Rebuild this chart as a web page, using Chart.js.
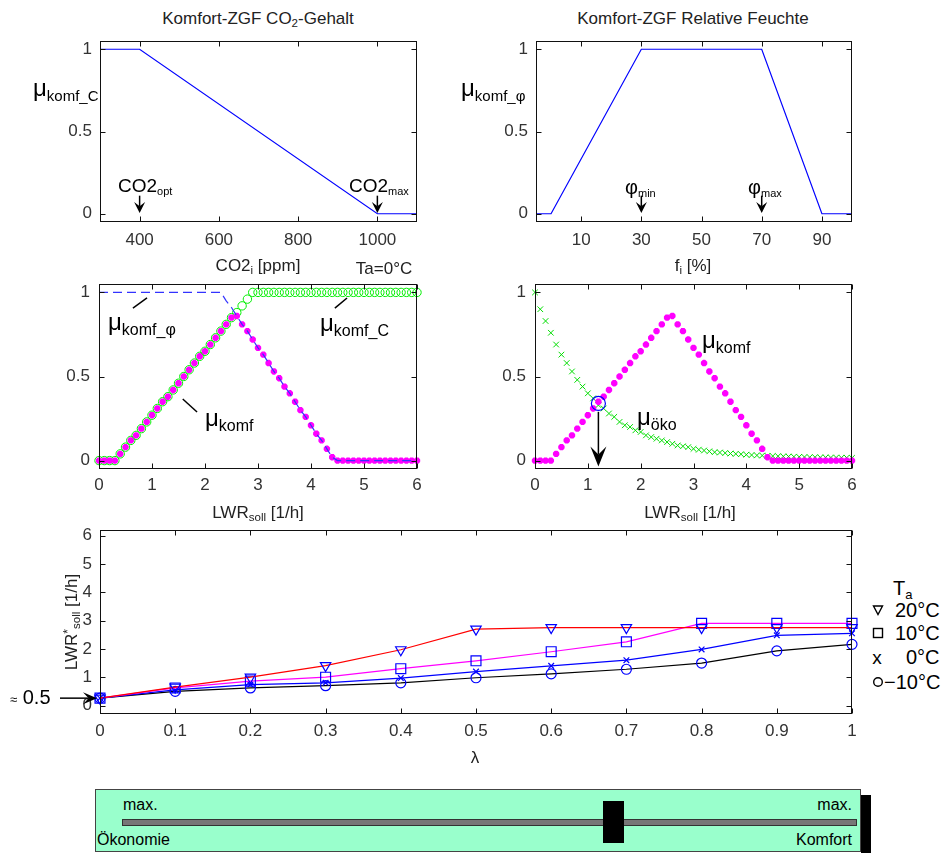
<!DOCTYPE html>
<html>
<head>
<meta charset="utf-8">
<script src="https://cdn.jsdelivr.net/npm/chart.js@4.4.0/dist/chart.umd.min.js"></script>
<style>
body { margin: 0; background: #fff; width: 950px; height: 854px; position: relative; overflow: hidden;
       font-family: "Liberation Sans", Arial, sans-serif; }
canvas { position: absolute; }
.t { position: absolute; white-space: nowrap; line-height: 1; color: #222; }
.c { transform: translate(-50%, -50%); }
.l { transform: translateY(-50%); }
.r { transform: translate(-100%, -50%); }
.k { color: #000; }
sub { font-size: 0.68em; vertical-align: -0.3em; line-height: 0; }
sup { font-size: 0.7em; vertical-align: 0.4em; line-height: 0; }
.mu { font-size: 24px; }
.ms { font-size: 16px; }
svg.sym { position: absolute; }
</style>
</head>
<body>
<canvas id="c1"></canvas>
<canvas id="c2"></canvas>
<canvas id="c3"></canvas>
<canvas id="c4"></canvas>
<canvas id="c5"></canvas>

<!-- top row texts -->
<div class="t c" style="left:258px;top:18px;font-size:17px">Komfort-ZGF CO<sub>2</sub>-Gehalt</div>
<div class="t c" style="left:693px;top:18px;font-size:17px">Komfort-ZGF Relative Feuchte</div>
<div class="t l k" style="left:33px;top:88px"><span class="mu">μ</span><sub class="ms" style="font-size:15px">komf_C</sub></div>
<div class="t l k" style="left:461px;top:88px"><span class="mu">μ</span><sub class="ms" style="font-size:15px">komf_φ</sub></div>
<div class="t l k" style="left:118px;top:185px;font-size:19px">CO2<sub style="font-size:11px">opt</sub></div>
<div class="t l k" style="left:349px;top:185px;font-size:19px">CO2<sub style="font-size:11px">max</sub></div>
<div class="t l k" style="left:625px;top:187px;font-size:20px">φ<sub style="font-size:11px">min</sub></div>
<div class="t l k" style="left:748px;top:187px;font-size:20px">φ<sub style="font-size:11px">max</sub></div>
<div class="t c" style="left:258px;top:265px;font-size:17px">CO2<sub>i</sub> [ppm]</div>
<div class="t c" style="left:384px;top:268px;font-size:17px">Ta=0°C</div>
<div class="t c" style="left:693px;top:265px;font-size:17px">f<sub>i</sub> [%]</div>

<!-- middle row texts -->
<div class="t l k" style="left:108px;top:322px"><span class="mu">μ</span><sub class="ms">komf_φ</sub></div>
<div class="t l k" style="left:320px;top:323px"><span class="mu">μ</span><sub class="ms">komf_C</sub></div>
<div class="t l k" style="left:205px;top:418px"><span class="mu">μ</span><sub class="ms">komf</sub></div>
<div class="t l k" style="left:702px;top:340px"><span class="mu">μ</span><sub class="ms">komf</sub></div>
<div class="t l k" style="left:637px;top:417px"><span class="mu">μ</span><sub class="ms">öko</sub></div>
<div class="t c" style="left:258px;top:512px;font-size:17px">LWR<sub>soll</sub> [1/h]</div>
<div class="t c" style="left:690px;top:512px;font-size:17px">LWR<sub>soll</sub> [1/h]</div>

<!-- bottom chart texts -->
<div class="t" style="left:71px;top:622px;font-size:17px;transform:translate(-50%,-50%) rotate(-90deg)">LWR<sup>*</sup><sub>soll</sub> [1/h]</div>
<div class="t c" style="left:475px;top:757px;font-size:17px">λ</div>
<div class="t l k" style="left:10px;top:697px;font-size:20px"><span style="font-size:13px">≈</span> 0.5</div>
<div class="t l k" style="left:893px;top:588px;font-size:20px">T<sub style="font-size:13px">a</sub></div>
<svg class="sym" style="left:872px;top:604px" width="12" height="12"><path d="M1.5,2 L10.5,2 L6,10.5 Z" fill="none" stroke="#000" stroke-width="1.4"/></svg>
<div class="t l k" style="left:895px;top:610px;font-size:20px">20°C</div>
<svg class="sym" style="left:872px;top:627px" width="12" height="12"><rect x="1.5" y="1.5" width="9" height="9" fill="none" stroke="#000" stroke-width="1.4"/></svg>
<div class="t l k" style="left:895px;top:633px;font-size:20px">10°C</div>
<div class="t c k" style="left:877px;top:657px;font-size:19px">x</div>
<div class="t l k" style="left:906px;top:657px;font-size:20px">0°C</div>
<svg class="sym" style="left:872px;top:676px" width="12" height="12"><circle cx="6" cy="6" r="4.3" fill="none" stroke="#000" stroke-width="1.4"/></svg>
<div class="t l k" style="left:884px;top:682px;font-size:20px">−10°C</div>

<!-- slider -->
<div style="position:absolute;left:861px;top:795px;width:10px;height:58px;background:#000"></div>
<div style="position:absolute;left:95px;top:789px;width:764px;height:61px;background:#99ffcc;border:1px solid #444"></div>
<div style="position:absolute;left:122px;top:819px;width:733px;height:5px;background:#777;border:1px solid #333"></div>
<div style="position:absolute;left:603px;top:801px;width:21px;height:42px;background:#000"></div>
<div class="t l k" style="left:123px;top:805px;font-size:16px">max.</div>
<div class="t r k" style="left:852px;top:805px;font-size:16px">max.</div>
<div class="t l k" style="left:97px;top:840px;font-size:16px">Ökonomie</div>
<div class="t r k" style="left:852px;top:840px;font-size:16px">Komfort</div>

<script>
// --- top left: comfort membership for CO2 ---
var co2X = [300, 400, 1000, 1100];
var co2Mu = [1, 1, 0, 0];
var co2Ticks = [400, 600, 800, 1000];

// --- top right: comfort membership for humidity ---
var humX = [-5, 0, 30, 70, 90, 100];
var humMu = [0, 0, 1, 1, 0, 0];
var humTicks = [10, 30, 50, 70, 90];

var muTicks = [0, 0.5, 1];

// --- middle row: air change rate LWR_soll [1/h] ---
var lwr = [0, 0.1, 0.2, 0.3, 0.4, 0.5, 0.6, 0.7, 0.8, 0.9,
           1, 1.1, 1.2, 1.3, 1.4, 1.5, 1.6, 1.7, 1.8, 1.9,
           2, 2.1, 2.2, 2.3, 2.4, 2.5, 2.6, 2.7, 2.8, 2.9,
           3, 3.1, 3.2, 3.3, 3.4, 3.5, 3.6, 3.7, 3.8, 3.9,
           4, 4.1, 4.2, 4.3, 4.4, 4.5, 4.6, 4.7, 4.8, 4.9,
           5, 5.1, 5.2, 5.3, 5.4, 5.5, 5.6, 5.7, 5.8, 5.9, 6];
var lwrTicks = [0, 1, 2, 3, 4, 5, 6];

var muKomfC = [0, 0, 0, 0, 0.04, 0.08, 0.12, 0.15, 0.19, 0.23,
               0.27, 0.31, 0.35, 0.38, 0.42, 0.46, 0.50, 0.54, 0.58, 0.62,
               0.65, 0.69, 0.73, 0.77, 0.81, 0.85, 0.88, 0.92, 0.96, 1,
               1, 1, 1, 1, 1, 1, 1, 1, 1, 1,
               1, 1, 1, 1, 1, 1, 1, 1, 1, 1,
               1, 1, 1, 1, 1, 1, 1, 1, 1, 1, 1];
var muKomfPhi = [1, 1, 1, 1, 1, 1, 1, 1, 1, 1,
                 1, 1, 1, 1, 1, 1, 1, 1, 1, 1,
                 1, 1, 1, 1, 0.95, 0.91, 0.86, 0.81, 0.77, 0.72,
                 0.67, 0.63, 0.58, 0.53, 0.49, 0.44, 0.40, 0.35, 0.30, 0.26,
                 0.21, 0.16, 0.12, 0.07, 0.02, 0, 0, 0, 0, 0,
                 0, 0, 0, 0, 0, 0, 0, 0, 0, 0, 0];
var muKomf = [0, 0, 0, 0, 0.04, 0.08, 0.12, 0.15, 0.19, 0.23,
              0.27, 0.31, 0.35, 0.38, 0.42, 0.46, 0.50, 0.54, 0.58, 0.62,
              0.65, 0.69, 0.73, 0.77, 0.81, 0.85, 0.86, 0.81, 0.77, 0.72,
              0.67, 0.63, 0.58, 0.53, 0.49, 0.44, 0.40, 0.35, 0.30, 0.26,
              0.21, 0.16, 0.12, 0.07, 0.02, 0, 0, 0, 0, 0,
              0, 0, 0, 0, 0, 0, 0, 0, 0, 0, 0];
var muOeko = [1.00, 0.90, 0.83, 0.76, 0.69, 0.63, 0.58, 0.53, 0.48, 0.44,
              0.40, 0.37, 0.33, 0.31, 0.28, 0.26, 0.23, 0.21, 0.20, 0.18,
              0.17, 0.15, 0.14, 0.13, 0.12, 0.11, 0.10, 0.09, 0.085, 0.08,
              0.07, 0.065, 0.06, 0.055, 0.05, 0.048, 0.045, 0.042, 0.04, 0.038,
              0.035, 0.033, 0.031, 0.03, 0.028, 0.027, 0.026, 0.025, 0.024, 0.023,
              0.022, 0.021, 0.02, 0.02, 0.019, 0.019, 0.018, 0.018, 0.017, 0.017, 0.016];
var cutX = [1.2];
var cutY = [0.34];

// --- bottom: LWR*_soll over lambda for outdoor temperatures ---
var lambda = [0, 0.1, 0.2, 0.3, 0.4, 0.5, 0.6, 0.7, 0.8, 0.9, 1];
var lwr20 = [0.26, 0.65, 1.0, 1.41, 1.97, 2.7, 2.75, 2.75, 2.75, 2.75, 2.75];
var lwr10 = [0.26, 0.62, 0.86, 1.0, 1.3, 1.58, 1.9, 2.25, 2.9, 2.9, 2.9];
var lwr0 = [0.26, 0.55, 0.74, 0.8, 0.97, 1.2, 1.4, 1.6, 1.98, 2.48, 2.55];
var lwrM10 = [0.26, 0.5, 0.62, 0.7, 0.8, 0.98, 1.12, 1.28, 1.5, 1.93, 2.16];
var lambdaTicks = [0, 0.1, 0.2, 0.3, 0.4, 0.5, 0.6, 0.7, 0.8, 0.9, 1];
var lwrStarTicks = [0, 1, 2, 3, 4, 5, 6];

Chart.defaults.font.family = "'Liberation Sans', Arial, sans-serif";
Chart.defaults.font.size = 17;
Chart.defaults.color = '#333';
var tickFont = { family: "'Liberation Sans', Arial, sans-serif", size: 17 };
var tickColor = '#333';

function pts(xs, ys) {
  return xs.map(function (x, i) { return { x: x, y: ys[i] }; });
}

function drawArrow(ctx, x1, y1, x2, y2, w, h) {
  var dx = x2 - x1, dy = y2 - y1, len = Math.sqrt(dx * dx + dy * dy);
  var ux = dx / len, uy = dy / len, nx = -uy, ny = ux;
  ctx.beginPath();
  ctx.moveTo(x1, y1);
  ctx.lineTo(x2 - ux * h * 0.6, y2 - uy * h * 0.6);
  ctx.stroke();
  ctx.beginPath();
  ctx.moveTo(x2, y2);
  ctx.lineTo(x2 - ux * h + nx * w / 2, y2 - uy * h + ny * w / 2);
  ctx.lineTo(x2 - ux * h * 0.6, y2 - uy * h * 0.6);
  ctx.lineTo(x2 - ux * h - nx * w / 2, y2 - uy * h - ny * w / 2);
  ctx.closePath();
  ctx.fill();
}

var framePlugin = {
  id: 'frame',
  afterDraw: function (chart, args, opts) {
    var ctx = chart.ctx, a = chart.chartArea;
    var xs = chart.scales.x, ys = chart.scales.y;
    var L = Math.round(a.left) + 0.5, R = Math.round(a.right) - 0.5;
    var T = Math.round(a.top) + 0.5, B = Math.round(a.bottom) - 0.5;
    ctx.save();
    ctx.strokeStyle = '#111';
    ctx.lineWidth = 1;
    ctx.strokeRect(L, T, R - L, B - T);
    ctx.beginPath();
    xs.ticks.forEach(function (t) {
      var p = Math.round(xs.getPixelForValue(t.value)) + 0.5;
      ctx.moveTo(p, B); ctx.lineTo(p, B - 5);
      ctx.moveTo(p, T); ctx.lineTo(p, T + 5);
    });
    ys.ticks.forEach(function (t) {
      var p = Math.round(ys.getPixelForValue(t.value)) + 0.5;
      ctx.moveTo(L, p); ctx.lineTo(L + 5, p);
      ctx.moveTo(R, p); ctx.lineTo(R - 5, p);
    });
    ctx.stroke();
    ctx.strokeStyle = '#000';
    ctx.fillStyle = '#000';
    (opts.arrows || []).forEach(function (ar) {
      var px = xs.getPixelForValue(ar.x);
      ctx.lineWidth = ar.lw || 1.5;
      drawArrow(ctx, px, ys.getPixelForValue(ar.y1), px, ys.getPixelForValue(ar.y2), ar.w, ar.h);
    });
    (opts.hArrows || []).forEach(function (ar) {
      var py = ys.getPixelForValue(ar.y);
      ctx.lineWidth = 1.5;
      drawArrow(ctx, a.left + ar.dx1, py, a.left + ar.dx2, py, ar.w, ar.h);
    });
    ctx.lineWidth = 1.5;
    (opts.leaders || []).forEach(function (ld) {
      ctx.beginPath();
      ctx.moveTo(xs.getPixelForValue(ld[0]), ys.getPixelForValue(ld[1]));
      ctx.lineTo(xs.getPixelForValue(ld[2]), ys.getPixelForValue(ld[3]));
      ctx.stroke();
    });
    ctx.restore();
  }
};

function axis(min, max, ticks, size, pad, isX) {
  return {
    type: 'linear',
    min: min,
    max: max,
    afterBuildTicks: function (s) { s.ticks = ticks.map(function (v) { return { value: v }; }); },
    afterFit: function (s) {
      if (isX) { s.height = size; } else { s.width = size; }
      s.paddingTop = 0; s.paddingBottom = 0; s.paddingLeft = 0; s.paddingRight = 0;
    },
    grid: { display: false, drawTicks: false },
    border: { display: false },
    ticks: {
      font: tickFont, color: tickColor, padding: pad, autoSkip: false, maxRotation: 0,
      callback: function (v) { return String(v); }
    }
  };
}

function makeChart(id, box, xAx, yAx, datasets, extra) {
  var yw = 60, xh = 34, pr = 14, pt = 10;
  var c = document.getElementById(id);
  var w = box.r - box.l + yw + pr, h = box.b - box.t + xh + pt;
  c.width = w; c.height = h;
  c.style.left = (box.l - yw) + 'px';
  c.style.top = (box.t - pt) + 'px';
  c.style.width = w + 'px'; c.style.height = h + 'px';
  return new Chart(c, {
    type: 'scatter',
    data: { datasets: datasets },
    options: {
      responsive: false,
      animation: false,
      devicePixelRatio: 1,
      layout: { padding: { top: pt, right: pr, left: 0, bottom: 0 } },
      plugins: { legend: { display: false }, tooltip: { enabled: false }, frame: extra || {} },
      scales: {
        x: axis(xAx[0], xAx[1], xAx[2], xh, xAx[3], true),
        y: axis(yAx[0], yAx[1], yAx[2], yw, yAx[3], false)
      }
    },
    plugins: [framePlugin]
  });
}

function lineSet(xs, ys, color, dash) {
  return { data: pts(xs, ys), showLine: true, borderColor: color, borderWidth: 1.2,
           borderDash: dash || [], pointRadius: 0, clip: false };
}

makeChart('c1', { l: 100, t: 41, r: 417, b: 222 },
  [300, 1100, co2Ticks, 8], [-0.05, 1.05, muTicks, 8],
  [lineSet(co2X, co2Mu, '#0000ff')],
  { arrows: [{ x: 400, y1: 0.11, y2: 0.005, w: 11, h: 11 }, { x: 1000, y1: 0.11, y2: 0.005, w: 11, h: 11 }] });

makeChart('c2', { l: 536, t: 41, r: 852, b: 222 },
  [-5, 100, humTicks, 8], [-0.05, 1.05, muTicks, 8],
  [lineSet(humX, humMu, '#0000ff')],
  { arrows: [{ x: 30, y1: 0.11, y2: 0.005, w: 11, h: 11 }, { x: 70, y1: 0.11, y2: 0.005, w: 11, h: 11 }] });

makeChart('c3', { l: 99, t: 284, r: 417, b: 469 },
  [0, 6, lwrTicks, 6], [-0.05, 1.05, muTicks, 9],
  [
    lineSet(lwr, muKomfPhi, '#3333ff', [9, 5]),
    { data: pts(lwr, muKomf), pointStyle: 'star', pointRadius: 3.2, pointBorderWidth: 2.4,
      pointBorderColor: '#ff00ff', pointBackgroundColor: '#ff00ff', showLine: false, clip: false },
    { data: pts(lwr, muKomfC), pointStyle: 'circle', pointRadius: 4.2, pointBorderWidth: 1,
      pointBorderColor: '#00ee00', pointBackgroundColor: 'rgba(0,0,0,0)', showLine: false, clip: false }
  ],
  { leaders: [[0.64, 0.907, 0.906, 0.967], [4.45, 0.907, 4.68, 0.967], [1.58, 0.366, 1.85, 0.289]] });

makeChart('c4', { l: 535, t: 284, r: 852, b: 469 },
  [0, 6, lwrTicks, 6], [-0.05, 1.05, muTicks, 9],
  [
    { data: pts(cutX, cutY), pointStyle: 'circle', pointRadius: 7, pointBorderWidth: 1.2,
      pointBorderColor: '#0000ff', pointBackgroundColor: 'rgba(0,0,0,0)', showLine: false, clip: false },
    { data: pts(lwr, muKomf), pointStyle: 'star', pointRadius: 3.2, pointBorderWidth: 2.4,
      pointBorderColor: '#ff00ff', pointBackgroundColor: '#ff00ff', showLine: false, clip: false },
    { data: pts(lwr, muOeko), pointStyle: 'crossRot', pointRadius: 4, pointBorderWidth: 1,
      pointBorderColor: '#00dd00', showLine: false, clip: false }
  ],
  { arrows: [{ x: 1.2, y1: 0.29, y2: -0.035, w: 16, h: 20, lw: 1.5 }] });

function tempSet(ys, lineColor, style, radius, rot) {
  return { data: pts(lambda, ys), showLine: true, borderColor: lineColor, borderWidth: 1.2,
           pointStyle: style, pointRadius: radius, pointRotation: rot || 0, pointBorderWidth: 1.2,
           pointBorderColor: '#0000ff', pointBackgroundColor: 'rgba(0,0,0,0)', clip: false };
}

makeChart('c5', { l: 100, t: 530, r: 852, b: 714 },
  [0, 1, lambdaTicks, 7], [-0.3, 6.2, lwrStarTicks, 8],
  [
    tempSet(lwr20, '#ff0000', 'triangle', 6, 180),
    tempSet(lwr10, '#ff00ff', 'rect', 7),
    tempSet(lwr0, '#0000ff', 'crossRot', 4),
    tempSet(lwrM10, '#000000', 'circle', 5)
  ],
  { hArrows: [{ y: lwr20[0], dx1: -40, dx2: -3, w: 12, h: 14 }] });
</script>
</body>
</html>
